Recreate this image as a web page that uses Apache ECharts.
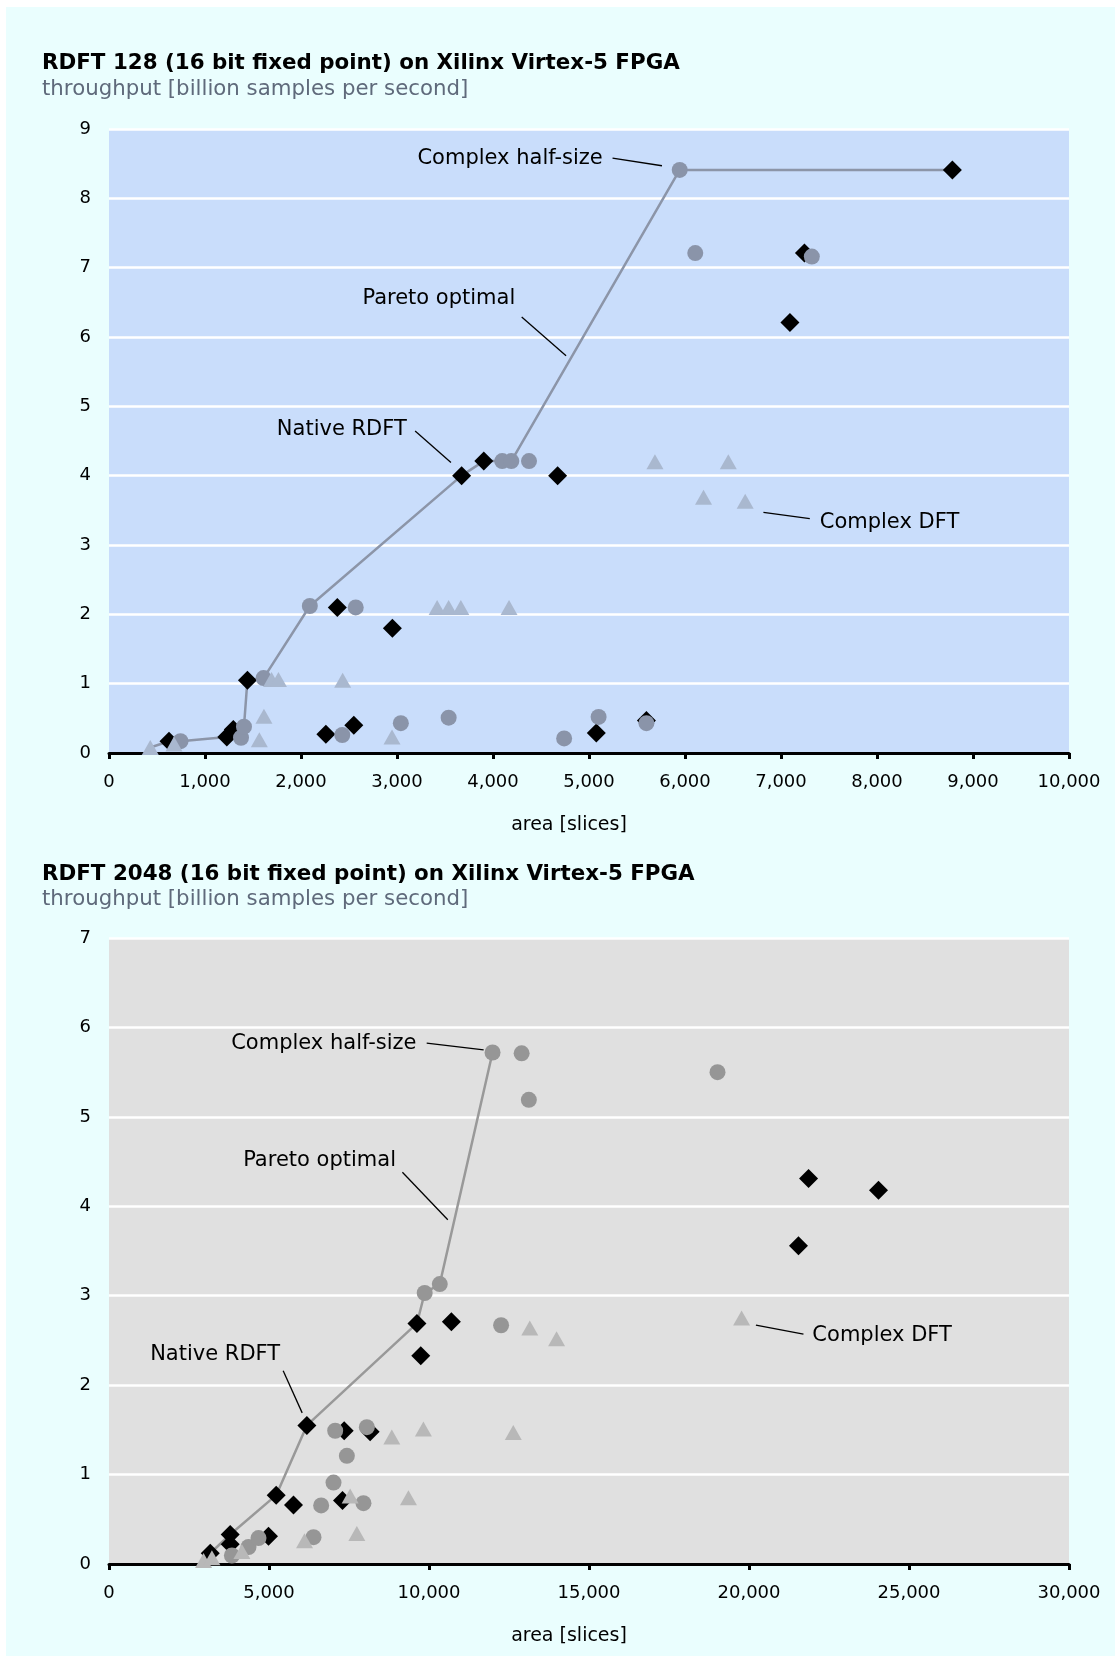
<!DOCTYPE html>
<html>
<head>
<meta charset="utf-8">
<script src="https://cdn.jsdelivr.net/npm/echarts@6/dist/echarts.min.js"></script>
<style>
  html, body { margin: 0; padding: 0; background: #ffffff; }
  #bg { position: absolute; left: 6px; top: 7px; width: 1109px; height: 1649px; background: #eafefe; }
  #chart { position: absolute; left: 0; top: 0; width: 1115px; height: 1656px; }
</style>
</head>
<body>
<div id="bg"></div>
<div id="chart"></div>
<script>
// ---------- RDFT 128: [area (slices), throughput (billion samples/s)] ----------
const native128 = [
  [625, 0.17], [1227, 0.23], [1295, 0.34], [1442, 1.05], [2259, 0.27], [2378, 2.1],
  [2550, 0.40], [2952, 1.8], [3673, 4.0], [3904, 4.21], [4673, 4.0], [5076, 0.29],
  [5598, 0.47], [7093, 6.21], [7244, 7.21], [8785, 8.41]
];
const halfSize128 = [
  [745, 0.17], [1375, 0.22], [1406, 0.38], [1610, 1.08], [2092, 2.12], [2430, 0.26],
  [2570, 2.1], [3040, 0.43], [3538, 0.51], [4096, 4.21], [4191, 4.21], [4375, 4.21],
  [4741, 0.21], [5100, 0.52], [5598, 0.43], [5945, 8.41], [6107, 7.21], [7321, 7.16]
];
const complex128 = [
  [430, 0.08], [677, 0.13], [1566, 0.19], [1614, 0.53], [1693, 1.06], [1765, 1.06],
  [2434, 1.05], [2948, 0.23], [3418, 2.1], [3538, 2.1], [3665, 2.1], [4167, 2.1],
  [5687, 4.2], [6451, 4.2], [6193, 3.69], [6627, 3.63]
];
const pareto128 = [
  [430, 0.08], [625, 0.17], [745, 0.17], [1227, 0.23], [1295, 0.34], [1406, 0.38],
  [1442, 1.05], [1610, 1.08], [2092, 2.12], [3673, 4.0], [3904, 4.21], [4191, 4.21],
  [5945, 8.41], [8785, 8.41]
];

// ---------- RDFT 2048 ----------
const native2048 = [
  [3164, 0.12], [3788, 0.33], [3788, 0.22], [4985, 0.31], [5225, 0.77], [5765, 0.66],
  [6183, 1.55], [7297, 0.71], [7349, 1.49], [8160, 1.48], [9623, 2.69], [9742, 2.33],
  [10699, 2.71], [21546, 3.56], [21861, 4.31], [24047, 4.18]
];
const halfSize2048 = [
  [3841, 0.095], [4360, 0.19], [4672, 0.29], [6391, 0.30], [6630, 0.655], [7016, 0.91],
  [7068, 1.49], [7433, 1.21], [7952, 0.68], [8057, 1.53], [9865, 3.03], [10337, 3.13],
  [11986, 5.72], [12253, 2.67], [12895, 5.71], [13120, 5.19], [19016, 5.50]
];
const complex2048 = [
  [2955, 0.04], [3216, 0.07], [4153, 0.14], [6110, 0.26], [7536, 0.76], [7745, 0.34],
  [8838, 1.42], [9358, 0.74], [9825, 1.51], [12634, 1.47], [13150, 2.64], [13987, 2.52],
  [19769, 2.75]
];
const pareto2048 = [
  [2955, 0.04], [3164, 0.12], [3788, 0.33], [5225, 0.77], [6183, 1.55], [9623, 2.69],
  [9865, 3.03], [10337, 3.13], [11986, 5.72]
];

// Axis ranges: [min, max, interval]
const xRange128 = [0, 10000, 1000];
const yRange128 = [0, 9, 1];
const xRange2048 = [0, 30000, 5000];
const yRange2048 = [0, 7, 1];

// Callout text placed in axis units, with leader lines [x1, y1, x2, y2]
const notes128 = [
  { text: 'Complex half-size', at: [4178, 8.58], leader: [5245, 8.58, 5760, 8.47] },
  { text: 'Pareto optimal',    at: [3436, 6.56], leader: [4299, 6.29, 4761, 5.73] },
  { text: 'Native RDFT',       at: [2425, 4.66], leader: [3189, 4.645, 3562, 4.19] },
  { text: 'Complex DFT',       at: [8130, 3.33], leader: [6817, 3.47, 7300, 3.38] }
];
const notes2048 = [
  { text: 'Complex half-size', at: [6714, 5.825], leader: [9928, 5.825, 11708, 5.75] },
  { text: 'Pareto optimal',    at: [6580, 4.51],  leader: [9169, 4.38, 10587, 3.85] },
  { text: 'Native RDFT',       at: [3317, 2.337], leader: [5443, 2.16, 6037, 1.69] },
  { text: 'Complex DFT',       at: [24160, 2.56], leader: [20216, 2.67, 21702, 2.57] }
];

const FONT = 'DejaVu Sans, Verdana, sans-serif';
const fmt = v => v.toLocaleString('en-US');

function xAxisFor(idx, range) {
  return {
    gridIndex: idx, type: 'value', min: range[0], max: range[1], interval: range[2],
    name: 'area [slices]', nameLocation: 'middle', nameGap: 63,
    nameTextStyle: { fontFamily: FONT, fontSize: 19, color: '#000', padding: [0, 40, 0, 0] },
    axisLine: { show: true, onZero: true, lineStyle: { color: '#000', width: 3 } },
    axisTick: { show: true, length: 6, inside: false, lineStyle: { color: '#000', width: 3 } },
    axisLabel: { formatter: fmt, fontFamily: FONT, fontSize: 18, color: '#000', margin: 20 },
    splitLine: { show: false }
  };
}
function yAxisFor(idx, range) {
  return {
    gridIndex: idx, type: 'value', min: range[0], max: range[1], interval: range[2],
    axisLine: { show: false }, axisTick: { show: false },
    axisLabel: { fontFamily: FONT, fontSize: 18, color: '#000', margin: 18 },
    splitLine: { show: true, lineStyle: { color: '#ffffff', width: 2.5 } }
  };
}

function seriesFor(idx, sets, pal) {
  const base = { xAxisIndex: idx, yAxisIndex: idx, animation: false, silent: true };
  return [
    Object.assign({}, base, {
      type: 'line', data: sets.pareto, symbol: 'none', z: 2,
      lineStyle: { color: pal.line, width: 2.5 }
    }),
    Object.assign({}, base, {
      type: 'scatter', data: sets.native, symbol: 'diamond', symbolSize: [19, 19], z: 3,
      itemStyle: { color: '#000', opacity: 1 }
    }),
    Object.assign({}, base, {
      type: 'scatter', data: sets.half, symbol: 'circle', symbolSize: 16, z: 4,
      itemStyle: { color: pal.circle, opacity: 1 }
    }),
    Object.assign({}, base, {
      type: 'scatter', data: sets.complex, symbol: 'triangle', symbolSize: [17, 15], z: 5,
      itemStyle: { color: pal.triangle, opacity: 1 }
    }),
    Object.assign({}, base, {
      type: 'lines', coordinateSystem: 'cartesian2d', polyline: false, z: 6,
      data: sets.notes.map(n => ({ coords: [[n.leader[0], n.leader[1]], [n.leader[2], n.leader[3]]] })),
      lineStyle: { color: '#000', width: 1.3, opacity: 1, curveness: 0 },
      effect: { show: false }
    }),
    Object.assign({}, base, {
      type: 'scatter', symbolSize: 0, z: 7,
      data: sets.notes.map(n => ({ value: n.at, name: n.text })),
      itemStyle: { opacity: 1 },
      label: {
        show: true, position: 'inside', formatter: p => p.name,
        fontFamily: FONT, fontSize: 21, color: '#000', opacity: 1
      }
    })
  ];
}

const chart = echarts.init(document.getElementById('chart'), null, { renderer: 'canvas' });
const titleStyle = { fontFamily: FONT, fontSize: 21.4, fontWeight: 'bold', color: '#000', lineHeight: 24 };
const subStyle = { fontFamily: FONT, fontSize: 21.3, fontWeight: 'normal', color: '#5f6a7b', lineHeight: 24 };

chart.setOption({
  animation: false,
  backgroundColor: 'transparent',
  title: [
    { text: 'RDFT 128 (16 bit fixed point) on Xilinx Virtex-5 FPGA', left: 42, top: 51, padding: 0, textStyle: titleStyle },
    { text: 'throughput [billion samples per second]', left: 42, top: 77, padding: 0, textStyle: subStyle },
    { text: 'RDFT 2048 (16 bit fixed point) on Xilinx Virtex-5 FPGA', left: 42, top: 862, padding: 0, textStyle: titleStyle },
    { text: 'throughput [billion samples per second]', left: 42, top: 887, padding: 0, textStyle: subStyle }
  ],
  grid: [
    { left: 109, top: 129, width: 960, height: 624, show: true, backgroundColor: '#c9ddfb', borderWidth: 0 },
    { left: 109, top: 938, width: 960, height: 626, show: true, backgroundColor: '#e0e0e0', borderWidth: 0 }
  ],
  xAxis: [xAxisFor(0, xRange128), xAxisFor(1, xRange2048)],
  yAxis: [yAxisFor(0, yRange128), yAxisFor(1, yRange2048)],
  series: [].concat(
    seriesFor(0, { pareto: pareto128, native: native128, half: halfSize128, complex: complex128, notes: notes128 },
      { line: '#8c95a8', circle: '#8a94a9', triangle: '#a9b8cf' }),
    seriesFor(1, { pareto: pareto2048, native: native2048, half: halfSize2048, complex: complex2048, notes: notes2048 },
      { line: '#999999', circle: '#969696', triangle: '#b8b8b8' })
  )
});
</script>
</body>
</html>
